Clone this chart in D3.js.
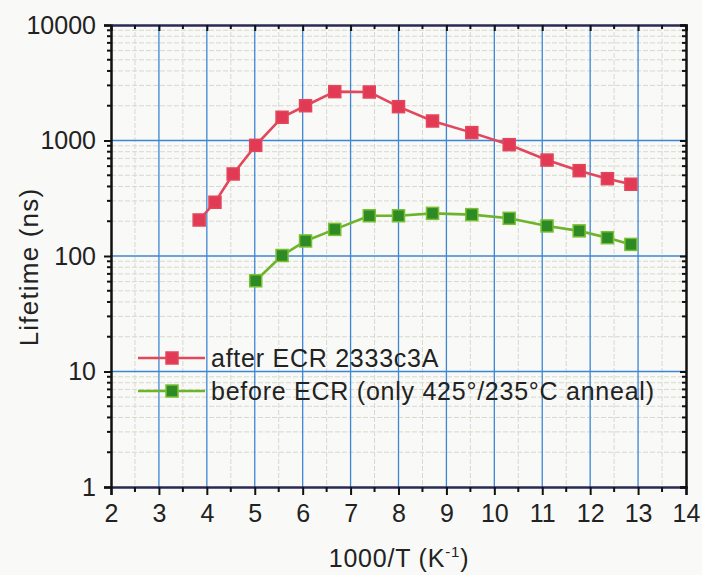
<!DOCTYPE html>
<html><head><meta charset="utf-8">
<script src="https://cdn.jsdelivr.net/npm/d3@7"></script>
<style>body{margin:0;background:#f9f9f7;}svg{display:block;font-family:"Liberation Sans",Arial,sans-serif;}</style>
</head><body><svg id="c" width="702" height="575"></svg>
<script>
const afterX = [3.84,4.17,4.55,5.02,5.57,6.06,6.67,7.39,8.0,8.71,9.53,10.31,11.1,11.77,12.36,12.85];
const afterY = [205,292,513,908,1589,2000,2648,2630,1963,1475,1170,920,677,548,467,418];
const beforeX = [5.02,5.57,6.06,6.67,7.39,8.0,8.71,9.53,10.31,11.1,11.77,12.36,12.85];
const beforeY = [61,101,135,170,223,223,234,228,212,182,165,144,126];
const xTicks = [2,3,4,5,6,7,8,9,10,11,12,13,14];
const yTicks = [1,10,100,1000,10000];
const seriesNames = ["after ECR 2333c3A","before ECR (only 425°/235°C anneal)"];

const FONT = '"Liberation Sans", Arial, sans-serif';
const svg = d3.select("#c");
const L=111, R=686, T=25, B=487;
const x = d3.scaleLinear().domain([2,14]).range([L,R]);
const y = d3.scaleLog().domain([1,10000]).range([B,T]);

const xMinor = d3.range(2.5,14,1);
const yMinor = [];
for (let d=1; d<10000; d*=10) for (let k=2;k<10;k++) yMinor.push(d*k);

const g = svg.append("g");
g.selectAll(".gxm").data(xMinor).join("line").attr("x1",d=>x(d)).attr("x2",d=>x(d)).attr("y1",T).attr("y2",B)
 .attr("stroke","#d6dacd").attr("stroke-width",1).attr("stroke-dasharray","5,2");
g.selectAll(".gym").data(yMinor).join("line").attr("y1",d=>y(d)).attr("y2",d=>y(d)).attr("x1",L).attr("x2",R)
 .attr("stroke","#d6dacd").attr("stroke-width",1).attr("stroke-dasharray","5,2");
g.selectAll(".gx").data(xTicks.slice(1,-1)).join("line").attr("x1",d=>x(d)).attr("x2",d=>x(d)).attr("y1",T).attr("y2",B)
 .attr("stroke","#3d86d4").attr("stroke-width",1.3);
g.selectAll(".gy").data(yTicks.slice(1,-1)).join("line").attr("y1",d=>y(d)).attr("y2",d=>y(d)).attr("x1",L).attr("x2",R)
 .attr("stroke","#3d86d4").attr("stroke-width",1.3);

const xAx = svg.append("g").attr("transform",`translate(0,${B})`)
 .call(d3.axisBottom(x).tickValues(xTicks).tickFormat(d3.format("d")).tickSize(8).tickPadding(9))
 .attr("font-family",FONT);
xAx.select(".domain").attr("stroke","#2a2a55").attr("stroke-width",2.5);
xAx.selectAll(".tick line").attr("stroke","#111").attr("stroke-width",2);
xAx.selectAll("text").attr("font-size",25).attr("fill","#222");
svg.append("g").attr("transform",`translate(0,${B})`).selectAll("line").data(xMinor).join("line")
 .attr("x1",d=>x(d)).attr("x2",d=>x(d)).attr("y1",0).attr("y2",5).attr("stroke","#111").attr("stroke-width",2);

const yAx = svg.append("g").attr("transform",`translate(${L},0)`)
 .call(d3.axisLeft(y).tickValues(yTicks).tickFormat(d3.format("d")).tickSize(7).tickPadding(8))
 .attr("font-family",FONT);
yAx.select(".domain").attr("stroke","#111").attr("stroke-width",2.5);
yAx.selectAll(".tick line").attr("stroke","#111").attr("stroke-width",2);
yAx.selectAll("text").attr("font-size",25).attr("fill","#222");
svg.append("g").attr("transform",`translate(${L},0)`).selectAll("line").data(yMinor).join("line")
 .attr("y1",d=>y(d)).attr("y2",d=>y(d)).attr("x1",0).attr("x2",-4).attr("stroke","#111").attr("stroke-width",2);

const xTop = svg.append("g").attr("transform",`translate(0,${T})`)
 .call(d3.axisTop(x).tickValues(xTicks).tickFormat("").tickSize(-6));
xTop.select(".domain").attr("stroke","#2a2a55").attr("stroke-width",2.5);
xTop.selectAll(".tick line").attr("stroke","#111").attr("stroke-width",2);
svg.append("g").attr("transform",`translate(0,${T})`).selectAll("line").data(xMinor).join("line")
 .attr("x1",d=>x(d)).attr("x2",d=>x(d)).attr("y1",0).attr("y2",4).attr("stroke","#111").attr("stroke-width",2);
const yRight = svg.append("g").attr("transform",`translate(${R},0)`)
 .call(d3.axisRight(y).tickValues(yTicks).tickFormat("").tickSize(-6));
yRight.select(".domain").attr("stroke","#111").attr("stroke-width",2.5);
yRight.selectAll(".tick line").attr("stroke","#111").attr("stroke-width",2);
svg.append("g").attr("transform",`translate(${R},0)`).selectAll("line").data(yMinor).join("line")
 .attr("y1",d=>y(d)).attr("y2",d=>y(d)).attr("x1",0).attr("x2",-4).attr("stroke","#111").attr("stroke-width",2);

const line = d3.line().x(d=>x(d[0])).y(d=>y(d[1]));
const series = [
 {pts: d3.zip(afterX,afterY), line:"#e2475c", fill:"#e23a55", edge:"#e2475c"},
 {pts: d3.zip(beforeX,beforeY), line:"#6cb42a", fill:"#2e8a24", edge:"#78c032"}
];
series.forEach(s=>{
  svg.append("path").datum(s.pts).attr("d",line).attr("fill","none").attr("stroke",s.line).attr("stroke-width",2.6);
  svg.append("g").selectAll("rect").data(s.pts).join("rect")
   .attr("x",d=>x(d[0])-6).attr("y",d=>y(d[1])-6).attr("width",12).attr("height",12)
   .attr("fill",s.fill).attr("stroke",s.edge).attr("stroke-width",1.5);
});

const lg = svg.append("g");
[358,391].forEach((ly,i)=>{
  const s = series[i];
  lg.append("line").attr("x1",138).attr("x2",205).attr("y1",ly).attr("y2",ly).attr("stroke",s.line).attr("stroke-width",2.6);
  lg.append("rect").attr("x",166).attr("y",ly-6).attr("width",12).attr("height",12).attr("fill",s.fill).attr("stroke",s.edge).attr("stroke-width",1.5);
  lg.append("text").attr("x",211).attr("y",ly+9).attr("font-size",25).attr("letter-spacing",0.75).attr("fill","#222").text(seriesNames[i]);
});

svg.append("text").attr("x",399).attr("y",567).attr("text-anchor","middle").attr("font-size",25).attr("letter-spacing",0.8).attr("fill","#222")
 .html('1000/T (K<tspan dy="-10" font-size="15">-1</tspan><tspan dy="10">)</tspan>');
svg.append("text").attr("transform","translate(38,267) rotate(-90)").attr("text-anchor","middle").attr("font-size",26).attr("letter-spacing",1.2).attr("fill","#222")
 .text("Lifetime (ns)");
</script></body></html>
